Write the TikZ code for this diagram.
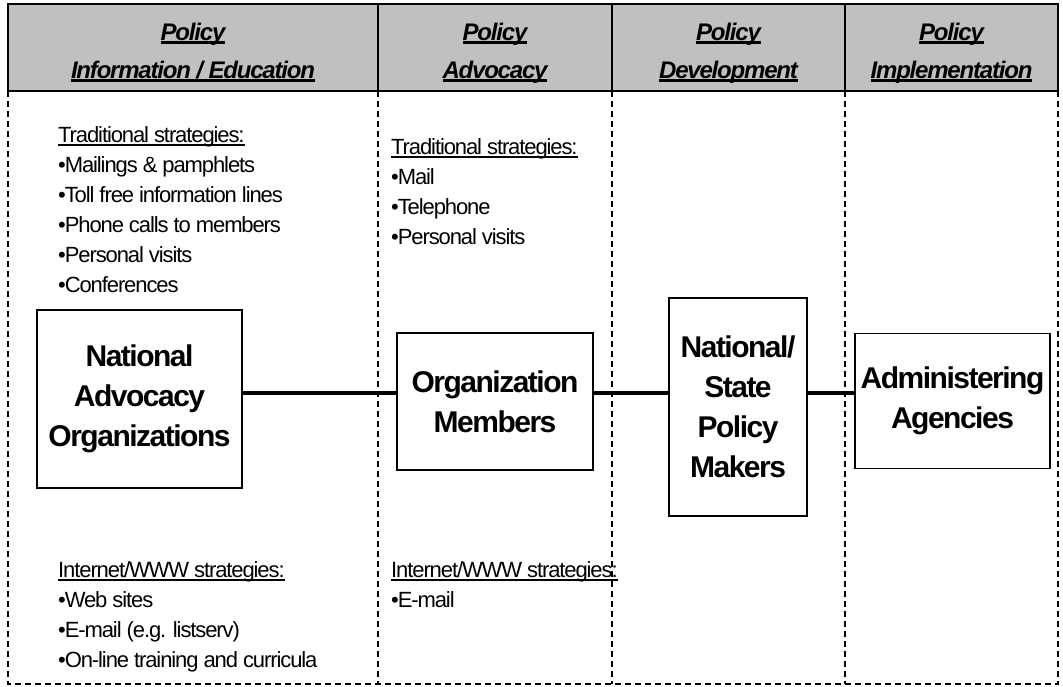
\documentclass[tikz,border=0pt]{standalone}
\usepackage{fontspec}
\setmainfont{Liberation Sans}[LetterSpace=-5]
\usepackage{tikz}
\usetikzlibrary{positioning}

\definecolor{headgray}{RGB}{192,192,192}
\newcommand{\undl}[2][2pt]{\setbox0=\hbox{#2}\rlap{\rule[-4pt]{\wd0}{#1}}\box0}

\tikzset{
  headtxt/.style={font=\fontsize{24}{38}\selectfont\bfseries\itshape, align=center, anchor=north, inner sep=0pt},
  listtxt/.style={font=\fontsize{22}{30}\selectfont, align=left, anchor=north west, inner sep=0pt},
  orgbox/.style={draw, line width=1.2pt, font=\fontsize{30}{40}\selectfont\bfseries, align=center},
  link/.style={line width=4.5pt},
  colline/.style={line width=1.2pt, dash pattern=on 6pt off 4pt}
}

\begin{document}
\begin{tikzpicture}[x=1pt,y=-1pt]
  \useasboundingbox (0,0) rectangle (1063,686);
  \draw[fill=headgray, line width=1.5pt] (8,4) rectangle (1058,91);
  \foreach \cx in {378,612,845}{
    \draw[line width=1.5pt] (\cx,4) -- (\cx,91);
    \draw[colline] (\cx,91) -- (\cx,684);
  }
  \draw[colline] (8,91) -- (8,684) -- (1058,684) -- (1058,91);

  \node[headtxt] (hdinfo) at (193,22.5) {\undl[3pt]{Policy}\\\undl[3pt]{Information / Education}};
  \node[headtxt] (hdadv) at (495,22.5) {\undl[3pt]{Policy}\\\undl[3pt]{Advocacy}};
  \node[headtxt] (hddev) at (728.5,22.5) {\undl[3pt]{Policy}\\\undl[3pt]{Development}};
  \node[headtxt] (hdimp) at (951.5,22.5) {\undl[3pt]{Policy}\\\undl[3pt]{Implementation}};

  \node[listtxt] (tradinfo) at (58,126) {\undl{Traditional strategies:}\\•Mailings \& pamphlets\\•Toll free information lines\\•Phone calls to members\\•Personal visits\\•Conferences};
  \node[listtxt] (tradadv) at (391,138) {\undl{Traditional strategies:}\\•Mail\\•Telephone\\•Personal visits};
  \node[listtxt] (webinfo) at (58,561) {\undl{Internet/WWW strategies:}\\•Web sites\\•E-mail (e.g. listserv)\\•On-line training and curricula};
  \node[listtxt] (webadv) at (391,561) {\undl{Internet/WWW strategies:}\\•E-mail};

  \node[orgbox, minimum width=205pt, minimum height=178pt] (nao) at (139.5,399) {National\\Advocacy\\Organizations};
  \node[orgbox, minimum width=196pt, minimum height=137pt] (members) at (495,401.5) {Organization\\Members};
  \node[orgbox, minimum width=138pt, minimum height=218pt] (makers) at (738,407) {National/\\State\\Policy\\Makers};
  \node[orgbox, minimum width=195pt, minimum height=135pt] (agencies) at (952.5,401) {Administering\\Agencies};

  \coordinate (lk) at (0,393);
  \draw[link] (nao.east |- lk) -- (members.west |- lk);
  \draw[link] (members.east |- lk) -- (makers.west |- lk);
  \draw[link] (makers.east |- lk) -- (agencies.west |- lk);
\end{tikzpicture}
\end{document}
